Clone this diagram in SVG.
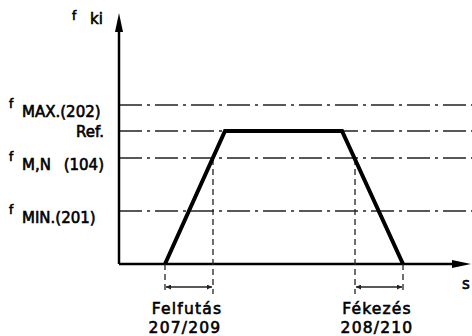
<svg xmlns="http://www.w3.org/2000/svg" width="472" height="336" viewBox="0 0 472 336">
<style>
text{font-family:"DejaVu Sans","Liberation Sans",sans-serif;fill:#000;stroke:#000;stroke-width:0.6;}
.lbl{font-size:15px;}
.bot{font-size:15.5px;letter-spacing:1.2px;}
.sup{font-size:12px;}
.dd{stroke:#222;stroke-width:1.3;stroke-dasharray:23 5 3 5;fill:none;}
.dv{stroke:#222;stroke-width:1.3;stroke-dasharray:6 4;fill:none;}
.axis{stroke:#000;stroke-width:2.5;fill:none;}
.dim{stroke:#222;stroke-width:1.5;fill:none;}
</style>
<defs>
<marker id="ah" viewBox="0 0 10 10" refX="10" refY="5" markerWidth="8" markerHeight="5" markerUnits="userSpaceOnUse" orient="auto-start-reverse">
<path d="M0,0 L10,5 L0,10 z" fill="#222"/>
</marker>
</defs>
<rect width="472" height="336" fill="#fff"/>
<g id="levels">
<line class="dd" x1="119" y1="105" x2="472" y2="105"/>
<line class="dd" x1="119" y1="131" x2="472" y2="131"/>
<line class="dd" x1="119" y1="158" x2="472" y2="158"/>
<line class="dd" x1="119" y1="211" x2="472" y2="211"/>
</g>
<g id="axes">
<line class="axis" x1="119" y1="264" x2="119" y2="30"/>
<path d="M119,13 L115,32 L123,32 z" fill="#000"/>
<line class="axis" x1="119" y1="264" x2="454" y2="264"/>
<path d="M471,264 L452,260 L452,268 z" fill="#000"/>
</g>
<g id="connectors">
<line class="dv" x1="165" y1="264" x2="165" y2="294"/>
<line class="dv" x1="213" y1="159" x2="213" y2="294"/>
<line class="dv" x1="355" y1="159" x2="355" y2="294"/>
<line class="dv" x1="403" y1="264" x2="403" y2="294"/>
<line class="dim" x1="166" y1="287" x2="212" y2="287" marker-start="url(#ah)" marker-end="url(#ah)"/>
<line class="dim" x1="356" y1="287" x2="402" y2="287" marker-start="url(#ah)" marker-end="url(#ah)"/>
</g>
<g id="profile">
<polyline points="165,264 225,131 342,131 403,264" fill="none" stroke="#000" stroke-width="4" stroke-linejoin="miter"/>
</g>
<g id="labels">
<text class="sup" x="72" y="20">f</text>
<text class="lbl" x="90" y="24">ki</text>
<text class="sup" x="9" y="108">f</text>
<text class="lbl" x="22" y="117">MAX.(202)</text>
<text class="lbl" x="104" y="137" text-anchor="end">Ref.</text>
<text class="sup" x="9" y="161">f</text>
<text class="lbl" x="22" y="170">M,N</text>
<text class="lbl" x="104" y="170" text-anchor="end">(104)</text>
<text class="sup" x="9" y="214">f</text>
<text class="lbl" x="22" y="223">MIN.(201)</text>
<text class="lbl" x="462" y="289">s</text>
<text class="bot" x="187" y="314" text-anchor="middle">Felfutás</text>
<text class="bot" x="185" y="333" text-anchor="middle">207/209</text>
<text class="bot" x="377" y="314" text-anchor="middle">Fékezés</text>
<text class="bot" x="377" y="333" text-anchor="middle">208/210</text>
</g>
</svg>
